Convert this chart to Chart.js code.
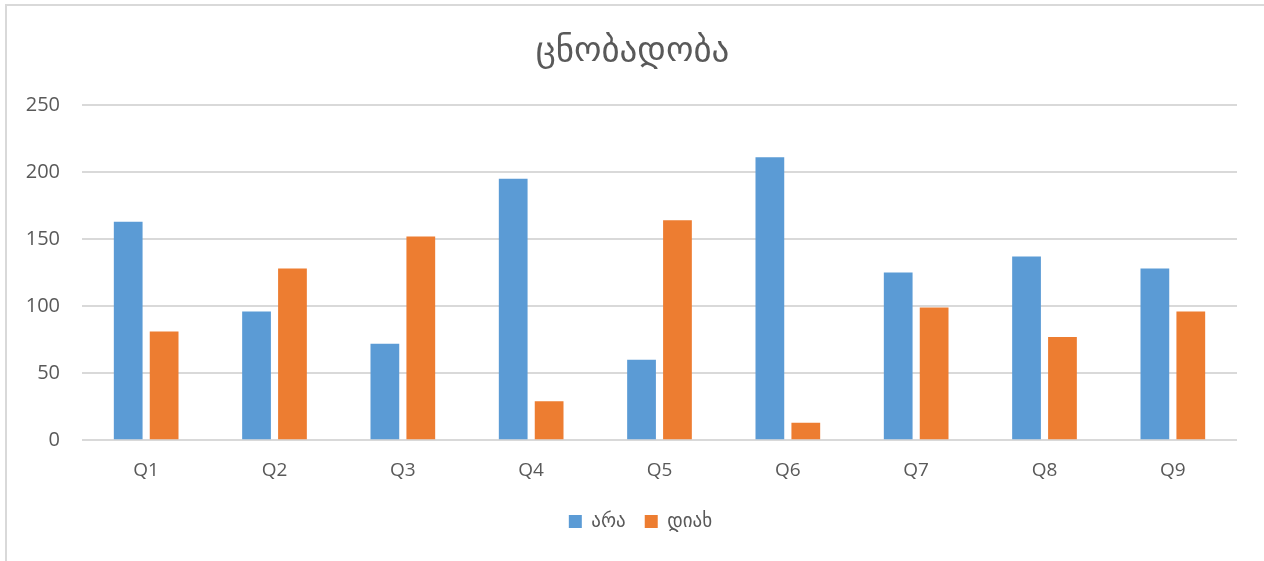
<!DOCTYPE html>
<html>
<head>
<meta charset="utf-8">
<script src="https://cdn.jsdelivr.net/npm/chart.js@4.4.1/dist/chart.umd.min.js"></script>
<style>
  html, body { margin: 0; padding: 0; background: #fff; }
  #wrap { position: relative; width: 1264px; height: 561px; overflow: hidden; }
  #frame { position: absolute; left: 5px; top: 4px; width: 1300px; height: 600px; border: 2px solid #d9d9d9; box-sizing: border-box; }
  #chart { position: absolute; left: 0; top: 0; }
</style>
</head>
<body>
<div id="wrap">
  <div id="frame"></div>
  <canvas id="chart" width="1264" height="561"></canvas>
</div>
<script>
// question labels along the x axis
const questions = ['Q1', 'Q2', 'Q3', 'Q4', 'Q5', 'Q6', 'Q7', 'Q8', 'Q9'];
// answer counts per question
const araValues = [163, 96, 72, 195, 60, 211, 125, 137, 128];
const diakhValues = [81, 128, 152, 29, 164, 13, 99, 77, 96];
// y axis ticks
const yTicks = [0, 50, 100, 150, 200, 250];

const textColor = '#595959';
const gridColor = '#d9d9d9';
const fontFamily = "'Open Sans', 'DejaVu Sans', sans-serif";

// nudge title and legend so they are centred a bit right of the canvas box
const centerShift = {
  id: 'centerShift',
  beforeDraw(chart) {
    const w = chart.width - 27;
    chart.titleBlock.left = 14;
    chart.titleBlock.right = w + 14;
    chart.legend.left = 22;
    chart.legend.right = w + 22;
  }
};

const ctx = document.getElementById('chart').getContext('2d');
new Chart(ctx, {
  type: 'bar',
  data: {
    labels: questions,
    datasets: [
      {
        label: 'არა',
        data: araValues,
        backgroundColor: '#5b9bd5',
        categoryPercentage: 0.56,
        barPercentage: 0.8
      },
      {
        label: 'დიახ',
        data: diakhValues,
        backgroundColor: '#ed7d31',
        categoryPercentage: 0.56,
        barPercentage: 0.8
      }
    ]
  },
  plugins: [centerShift],
  options: {
    responsive: false,
    animation: false,
    layout: { padding: { left: 0, right: 27, top: 30, bottom: 20 } },
    plugins: {
      title: {
        display: true,
        text: 'ცნობადობა',
        color: textColor,
        font: { family: fontFamily, size: 35, weight: 'normal' },
        padding: { top: 0, bottom: 33 }
      },
      legend: {
        position: 'bottom',
        labels: {
          color: textColor,
          font: { family: fontFamily, size: 19 },
          boxWidth: 13,
          boxHeight: 13,
          padding: 19
        }
      },
      tooltip: { enabled: false }
    },
    scales: {
      x: {
        grid: { display: false },
        border: { display: false },
        ticks: { color: textColor, font: { family: fontFamily, size: 19 }, padding: 11 }
      },
      y: {
        min: 0,
        max: 250,
        afterBuildTicks: (scale) => { scale.ticks = yTicks.map(v => ({ value: v })); },
        afterFit: (scale) => { scale.width = 82; },
        grid: { color: gridColor, lineWidth: 2, drawTicks: false },
        border: { display: false },
        ticks: { color: textColor, font: { family: fontFamily, size: 20 }, padding: 22 }
      }
    }
  }
});
</script>
</body>
</html>
